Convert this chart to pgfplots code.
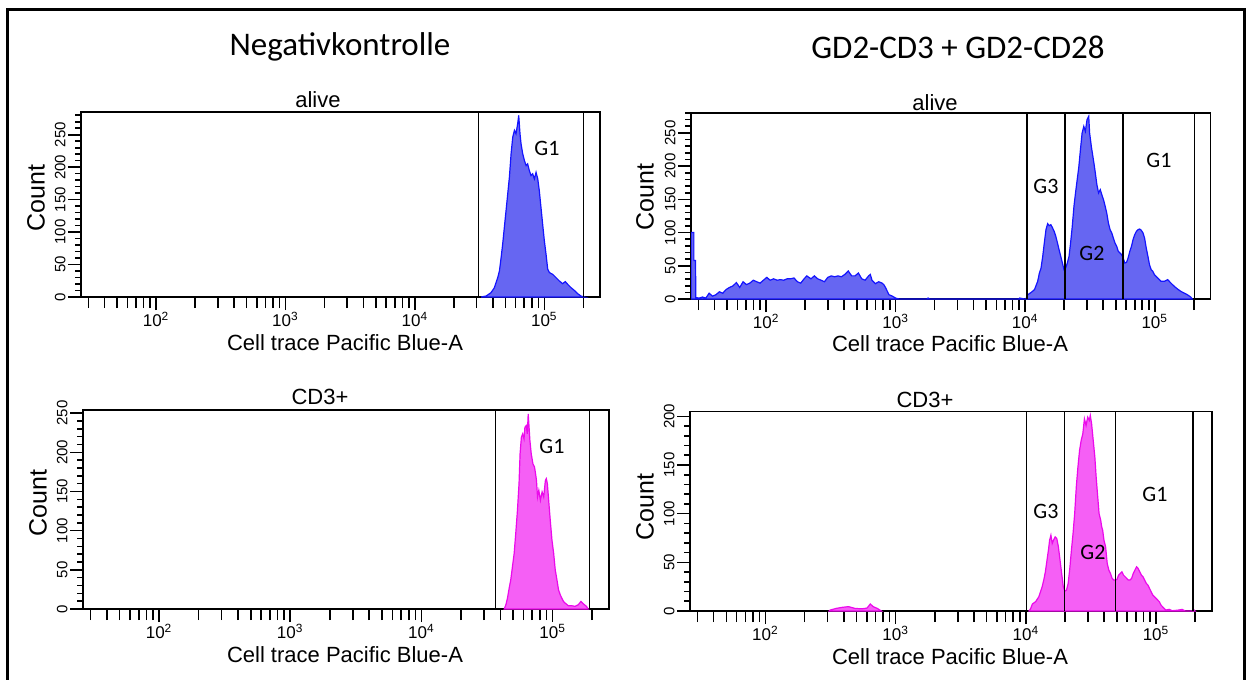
\documentclass[border=0pt]{standalone}
\usepackage{fontspec}
\setmainfont{Liberation Sans}
\newfontfamily\calibri{Carlito}
\usepackage{pgfplots}
\pgfplotsset{compat=1.18}
\definecolor{bfill}{RGB}{102,102,242}
\definecolor{bline}{RGB}{20,20,255}
\definecolor{mfill}{RGB}{245,95,245}
\definecolor{mline}{RGB}{235,10,235}
\pgfplotsset{
 fj/.style={
  scale only axis, anchor=south west,
  xmin=1.42, xmax=5.43, ymin=0,
  axis line style={line width=0.75pt},
  tick pos=left,
  tick align=outside, major tick length=6.5pt, minor tick length=3pt,
  every tick/.style={black, line width=0.8pt},
  /pgf/number format/assume math mode=true,
  xtick={2,3,4,5},
  xticklabels={10\textsuperscript{2},10\textsuperscript{3},10\textsuperscript{4},10\textsuperscript{5}},
  extra x ticks={1.477,1.602,1.699,1.778,1.845,1.903,1.954,
    2.301,2.477,2.602,2.699,2.778,2.845,2.903,2.954,
    3.301,3.477,3.602,3.699,3.778,3.845,3.903,3.954,
    4.301,4.477,4.602,4.699,4.778,4.845,4.903,4.954,5.301},
  extra x tick labels={},
  extra x tick style={major tick length=5.5pt},
  yticklabel style={rotate=90, anchor=south, inner sep=1pt, font=\fontsize{7.5}{8}\selectfont},
  xticklabel style={inner sep=1pt, font=\fontsize{8.5}{9}\selectfont},
  minor ytick={10,20,30,40,60,70,80,90,110,120,130,140,160,170,180,190,210,220,230,240,260,270,280},
 },
 gate/.style={black, line width=0.75pt},
 bh/.style={draw=bline, fill=bfill, line width=0.6pt},
 mh/.style={draw=mline, fill=mfill, line width=0.6pt},
}
\begin{document}
\begin{tikzpicture}[x=0.5pt,y=-0.5pt]
\useasboundingbox (0,0) rectangle (1248,680);
% outer frame
\draw[line width=1.5pt] (7,700) -- (7,9.5) -- (1244,9.5) -- (1244,700);
% titles
\node[font=\calibri\fontsize{16.5}{18}\selectfont] at (340,47) {Negativkontrolle};
\node[font=\calibri\fontsize{16.5}{18}\selectfont] at (958,47) {GD2-CD3 + GD2-CD28};

% ---------- top left
\begin{axis}[fj, at={(40.5pt,-148.5pt)}, width=259.5pt, height=92.5pt, ymax=285,
  ytick={0,50,100,150,200,250}]
\addplot[bh] coordinates {(4.511,0)(4.550,1.5)(4.588,6.7)(4.614,14.4)(4.640,29.9)(4.653,40.2)(4.666,60.8)(4.678,81.4)(4.691,107.2)(4.704,133)(4.717,158.7)(4.730,184.5)(4.743,220.6)(4.756,246.4)(4.769,256.7)(4.781,251.5)(4.794,267)(4.802,279.9)(4.812,251.5)(4.820,236)(4.833,220.6)(4.846,210.3)(4.859,202.5)(4.871,205)(4.884,194.8)(4.897,187)(4.910,189.7)(4.923,182)(4.936,192)(4.949,182)(4.961,164)(4.974,138)(4.987,112)(5.000,86.6)(5.013,66)(5.026,42.8)(5.039,37.6)(5.064,35)(5.090,29.9)(5.116,24.7)(5.141,20.6)(5.162,23.7)(5.180,19.6)(5.206,14.4)(5.231,10.3)(5.257,5.2)(5.283,1.5)(5.309,0)} \closedcycle;
\addplot[gate] coordinates {(4.490,0)(4.490,285)};
\addplot[gate] coordinates {(5.301,0)(5.301,285)};
\end{axis}

% ---------- top right
\begin{axis}[fj, at={(345.5pt,-149.5pt)}, width=259.75pt, height=93pt, ymax=280,
  ytick={0,50,100,150,200,250}]
\addplot[bh] coordinates {(1.42,0)(1.42,100)(1.442,100)(1.442,58)(1.455,58)(1.457,2.2)(1.482,1.3)(1.508,3)(1.534,1.3)(1.560,8.7)(1.586,4.3)(1.613,6.5)(1.639,10.9)(1.665,8.7)(1.691,14.3)(1.717,17.4)(1.743,19.6)(1.770,24.8)(1.796,17.4)(1.822,26)(1.848,21.7)(1.874,23.9)(1.901,28.3)(1.927,26)(1.953,23.9)(1.979,28.3)(2.005,32.6)(2.031,28.3)(2.058,30.4)(2.084,28.3)(2.110,29.1)(2.136,28.3)(2.162,30.4)(2.188,30.4)(2.215,31.7)(2.241,26)(2.267,23.9)(2.293,30.4)(2.314,34.8)(2.346,30.4)(2.372,34.8)(2.398,30.4)(2.424,28.3)(2.450,26)(2.476,32.6)(2.503,34.8)(2.529,33.5)(2.555,34.8)(2.581,33.5)(2.607,37)(2.634,42.2)(2.660,34.8)(2.686,34.8)(2.712,39.1)(2.738,30.4)(2.764,28.3)(2.791,34.8)(2.804,37)(2.817,28.3)(2.843,23)(2.869,26)(2.895,23.9)(2.908,21.7)(2.921,17.4)(2.948,6.5)(2.974,4.3)(3.0,1.3)(3.026,0)(3.24,0)(3.25,1.5)(3.26,0)(3.95,0)(3.957,1.5)(3.995,0)(4.005,0)(4.020,6.5)(4.046,10)(4.071,14)(4.096,26.6)(4.109,39)(4.122,46.7)(4.135,64.2)(4.147,84.3)(4.160,104.4)(4.173,113.4)(4.185,110.4)(4.198,111.9)(4.211,106.9)(4.223,101.9)(4.236,94.3)(4.249,84.3)(4.261,74.3)(4.274,64.2)(4.287,54.2)(4.299,44.2)(4.312,46.7)(4.325,54.2)(4.338,64.2)(4.350,84.3)(4.363,109.4)(4.376,139.5)(4.388,159.6)(4.401,179.6)(4.414,199.7)(4.426,224.8)(4.439,249.9)(4.452,259.9)(4.464,252.4)(4.477,270)(4.490,275)(4.497,249.9)(4.510,229.8)(4.520,217.3)(4.530,204.7)(4.541,189.7)(4.553,172.1)(4.566,159.6)(4.579,164.6)(4.591,157.1)(4.604,149.5)(4.617,139.5)(4.629,129.5)(4.642,114.4)(4.655,104.4)(4.668,99.4)(4.680,91.8)(4.693,84.3)(4.706,79.3)(4.718,71.8)(4.731,69.2)(4.744,66.7)(4.756,61.7)(4.769,54.2)(4.782,55.2)(4.794,61.7)(4.807,71.8)(4.820,79.3)(4.832,89.3)(4.845,96.8)(4.858,101.9)(4.871,104.4)(4.883,105.4)(4.896,103.4)(4.909,99.4)(4.921,91.8)(4.934,76.8)(4.947,64.2)(4.959,51.7)(4.972,44.2)(4.985,41.6)(4.997,36.6)(5.023,31.6)(5.048,26.6)(5.074,26.6)(5.099,29.1)(5.124,24.1)(5.150,19.1)(5.175,15.1)(5.201,11.5)(5.226,9)(5.251,6.5)(5.277,3)(5.289,0)} \closedcycle;
\addplot[gate] coordinates {(4.013,0)(4.013,280)};
\addplot[gate] coordinates {(4.305,0)(4.305,280)};
\addplot[gate] coordinates {(4.754,0)(4.754,280)};
\addplot[gate] coordinates {(5.307,0)(5.307,280)};
\end{axis}

% ---------- bottom left
\begin{axis}[fj, at={(41.5pt,-304.5pt)}, width=263pt, height=99.5pt, ymax=254,
  ytick={0,50,100,150,200,250}]
\addplot[mh] coordinates {(4.631,0)(4.644,5.5)(4.656,14)(4.669,26.7)(4.681,37.3)(4.694,54.2)(4.707,71.1)(4.719,96.5)(4.732,126.1)(4.744,160)(4.752,198.1)(4.762,219.3)(4.772,223.5)(4.782,217.2)(4.789,232)(4.799,234.1)(4.807,223.5)(4.814,248.9)(4.819,236.2)(4.827,215)(4.837,198.1)(4.850,185.4)(4.862,181.2)(4.870,172.7)(4.877,164.2)(4.885,143.1)(4.895,151.5)(4.907,138.8)(4.920,149.4)(4.932,143.1)(4.945,164.2)(4.952,166.4)(4.960,160)(4.970,138.8)(4.982,113.4)(4.995,88)(5.008,71.1)(5.020,50)(5.033,37.3)(5.045,24.6)(5.058,18.2)(5.070,14)(5.083,9.7)(5.095,7.6)(5.120,4.2)(5.145,4.2)(5.171,3.4)(5.196,5.5)(5.216,9.7)(5.233,6.8)(5.258,3.4)(5.271,0)} \closedcycle;
\addplot[gate] coordinates {(4.565,0)(4.565,254)};
\addplot[gate] coordinates {(5.283,0)(5.283,254)};
\end{axis}

% ---------- bottom right
\begin{axis}[fj, at={(345pt,-305.5pt)}, width=261pt, height=99.75pt, ymax=205,
  ytick={0,50,100,150,200},
  minor ytick={10,20,30,40,60,70,80,90,110,120,130,140,160,170,180,190}]
\addplot[mh] coordinates {(2.49,0)(2.497,1)(2.544,2.7)(2.591,3.8)(2.638,4.5)(2.686,2.7)(2.717,2.4)(2.748,2.4)(2.780,3)(2.805,7.2)(2.827,4.5)(2.858,2.7)(2.890,0)} \closedcycle;
\addplot[mh] coordinates {(4.02,0)(4.025,0)(4.0375,2.7)(4.05,7.2)(4.075,9.6)(4.10,14.7)(4.1125,19.8)(4.125,24.9)(4.1375,31.8)(4.15,40.3)(4.1625,52.3)(4.175,64.2)(4.1825,72.8)(4.1925,77.9)(4.2025,69.4)(4.2125,72.8)(4.225,76.2)(4.2375,74.5)(4.25,65.9)(4.2625,52.3)(4.275,38.6)(4.2875,24.9)(4.30,20.5)(4.3125,21.5)(4.325,28.4)(4.3375,43.7)(4.35,62.5)(4.3625,79.6)(4.375,100.1)(4.3875,127.5)(4.40,148)(4.4125,165)(4.425,175.3)(4.4375,182.1)(4.45,197.5)(4.4625,190.7)(4.475,199.2)(4.4875,195.8)(4.495,200.9)(4.505,192.4)(4.5125,182.1)(4.52,171.9)(4.53,158.2)(4.54,137.7)(4.55,120.6)(4.5625,100.1)(4.575,93.3)(4.5825,86.5)(4.59,83)(4.60,72.8)(4.6125,65.9)(4.625,48.9)(4.6375,42)(4.65,38.6)(4.6625,33.5)(4.675,31.8)(4.6875,31.8)(4.70,32.5)(4.7125,36.9)(4.725,38.6)(4.7375,40.3)(4.75,36.9)(4.7625,35.2)(4.775,33.5)(4.7875,31.8)(4.80,31.8)(4.8125,33.5)(4.825,38.6)(4.8375,42)(4.85,45.4)(4.8625,43.7)(4.875,40.3)(4.8875,36.9)(4.90,35.2)(4.9125,31.8)(4.925,28.4)(4.9375,26.7)(4.95,23.2)(4.9625,19.8)(4.975,16.4)(5.00,13)(5.025,9.6)(5.0375,6.2)(5.05,4.4)(5.075,1)(5.10,1.7)(5.125,0.3)(5.175,1)(5.20,1.7)(5.225,0)(5.28,0)(5.2875,1.7)(5.30,0)} \closedcycle;
\addplot[gate] coordinates {(4.005,0)(4.005,205)};
\addplot[gate] coordinates {(4.295,0)(4.295,205)};
\addplot[gate] coordinates {(4.6875,0)(4.6875,205)};
\addplot[gate] coordinates {(5.2825,0)(5.2825,205)};
\end{axis}

% panel titles and labels
\begin{scope}[every node/.style={font=\fontsize{11}{12}\selectfont}]
\node at (318,100) {alive};
\node at (935,103) {alive};
\node at (320,397) {CD3+};
\node at (925,400) {CD3+};
\node at (345,343) {Cell trace Pacific Blue-A};
\node at (950,344) {Cell trace Pacific Blue-A};
\node at (345,655) {Cell trace Pacific Blue-A};
\node at (950,657) {Cell trace Pacific Blue-A};
\end{scope}
\begin{scope}[every node/.style={font=\fontsize{12.5}{14}\selectfont, rotate=90}]
\node at (36,198) {Count};
\node at (38,503) {Count};
\node at (645,197) {Count};
\node at (645,507) {Count};
\end{scope}
% gate names
\begin{scope}[every node/.style={font=\calibri\fontsize{11}{13}\selectfont}]
\node at (547,148) {G1};
\node at (1046,186) {G3};
\node at (1092,253) {G2};
\node at (1159,160) {G1};
\node at (552,446) {G1};
\node at (1046,511) {G3};
\node at (1093,552) {G2};
\node at (1155,494) {G1};
\end{scope}
\end{tikzpicture}
\end{document}
